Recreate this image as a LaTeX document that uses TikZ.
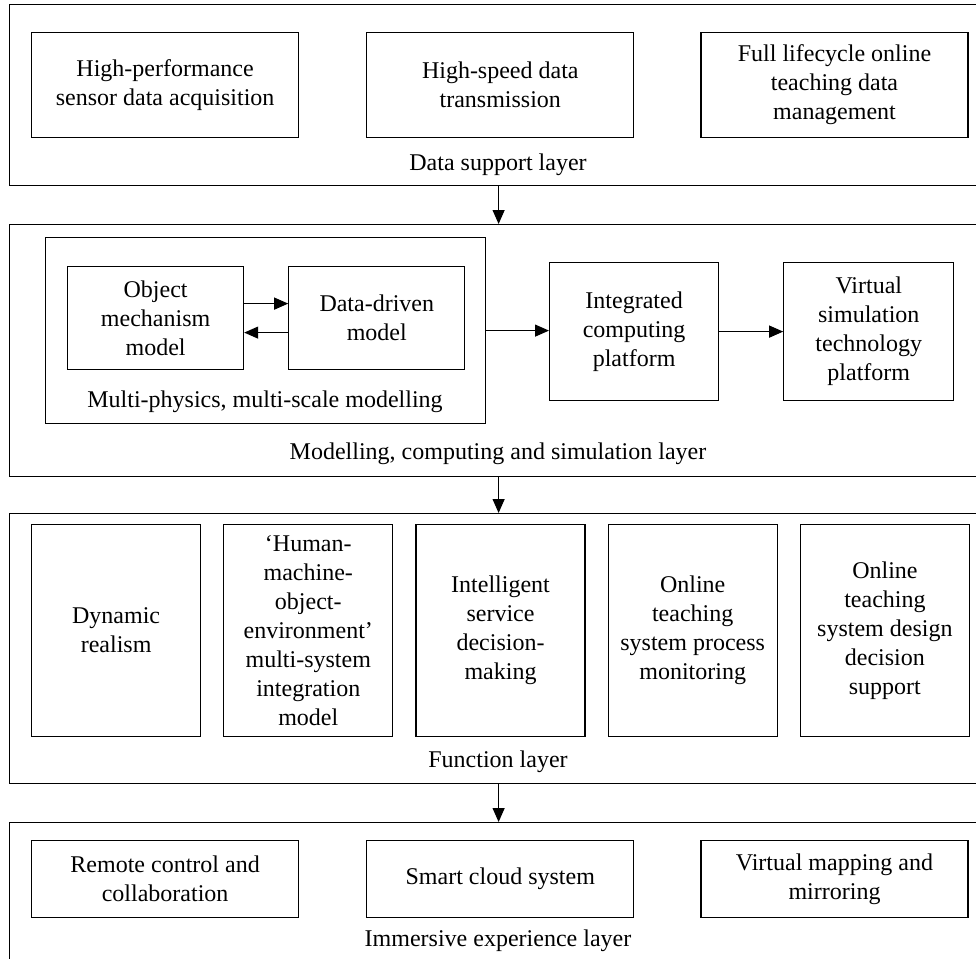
\documentclass[tikz,border=0pt]{standalone}
\usepackage{fontspec}
\setmainfont{Liberation Serif}
\usetikzlibrary{arrows.meta,positioning}

\begin{document}
\begin{tikzpicture}[
    x=1pt, y=-1pt,
    node distance=22pt,
    every node/.style={font=\fontsize{24}{29}\selectfont},
    layer/.style={draw, line width=1.2pt, anchor=north west, inner sep=0pt, minimum width=978pt},
    box/.style={draw, line width=1.2pt, align=center, inner sep=0pt, anchor=north west},
    widebox/.style={box, minimum width=267pt, minimum height=105pt},
    tallbox/.style={box, minimum width=169pt, minimum height=212pt},
    lowbox/.style={box, minimum width=267pt, minimum height=77pt},
    lbl/.style={anchor=base},
    flow/.style={-{Triangle[length=14pt,width=12pt]}, line width=1.2pt}
]
\path[use as bounding box, fill=white] (0,0) rectangle (976,958);
\clip (0,0) rectangle (976,958);

% data support layer
\node[layer, minimum height=181pt] (lyrdata) at (9,4) {};
\node[widebox] (acq) at (31,32) {High-performance\\sensor data acquisition};
\node[widebox, right=67pt of acq] (trans) {High-speed data\\transmission};
\node[widebox, right=66pt of trans] (mgmt) {Full lifecycle online\\teaching data\\management};
\node[lbl] (datalbl) at (498,170) {Data support layer};

% modelling, computing and simulation layer
\node[layer, minimum height=252pt] (lyrmodel) at (9,224) {};
\node[box, minimum width=440pt, minimum height=186pt] (grp) at (45,237) {};
\node[box, minimum width=176pt, minimum height=103pt] (obj) at (67,266) {Object\\mechanism\\model};
\node[box, minimum width=176pt, minimum height=103pt, right=44pt of obj] (drv) {Data-driven\\model};
\node[lbl] (grplbl) at (265,407) {Multi-physics, multi-scale modelling};
\node[box, minimum width=169pt, minimum height=138pt] (integ) at (549,262) {Integrated\\computing\\platform};
\node[box, minimum width=170pt, minimum height=138pt, right=64pt of integ] (virt) {Virtual\\simulation\\technology\\platform};
\node[lbl] (modellbl) at (498,459) {Modelling, computing and simulation layer};

\draw[flow] ([yshift=14.5pt]obj.east) -- ([yshift=14.5pt]drv.west);
\draw[flow] ([yshift=-14.5pt]drv.west) -- ([yshift=-14.5pt]obj.east);
\draw[flow] (grp.east) -- (grp.east -| integ.west);
\draw[flow] (integ) -- (virt);

% function layer
\node[layer, minimum height=270pt] (lyrfunc) at (9,513) {};
\node[tallbox] (dyn) at (31,524) {Dynamic\\realism};
\node[tallbox, right=of dyn] (hmoe) {‘Human-\\machine-\\object-\\environment’\\multi-system\\integration\\model};
\node[tallbox, right=of hmoe] (isd) {Intelligent\\service\\decision-\\making};
\node[tallbox, right=of isd] (mon) {Online\\teaching\\system process\\monitoring};
\node[tallbox, right=of mon] (dss) {Online\\teaching\\system design\\decision\\support};
\node[lbl] (funclbl) at (498,767) {Function layer};

% immersive experience layer
\node[layer, minimum height=200pt] (lyrimm) at (9,822) {};
\node[lowbox] (rem) at (31,840) {Remote control and\\collaboration};
\node[lowbox, right=67pt of rem] (cloud) {Smart cloud system};
\node[lowbox, right=66pt of cloud] (mirr) {Virtual mapping and\\mirroring};
\node[lbl] (immlbl) at (498,946) {Immersive experience layer};

\draw[flow] (lyrdata.south) -- (lyrmodel.north);
\draw[flow] (lyrmodel.south) -- (lyrfunc.north);
\draw[flow] (lyrfunc.south) -- (lyrimm.north);
\end{tikzpicture}
\end{document}
